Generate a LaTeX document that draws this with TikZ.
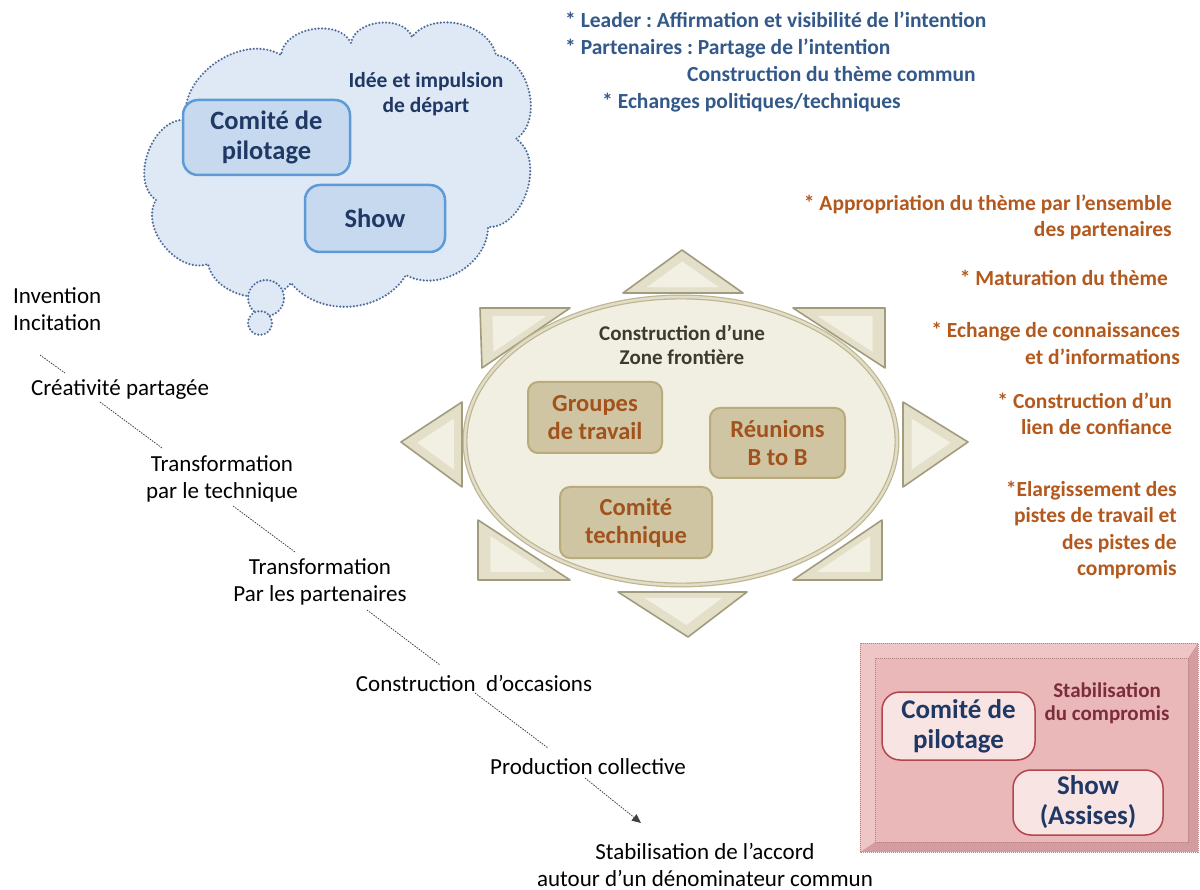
\documentclass[tikz,border=0pt]{standalone}
\usepackage{fontspec}
\setmainfont{Carlito}
\frenchspacing
\usetikzlibrary{shapes.geometric,calc,arrows.meta}
\definecolor{cloudfill}{HTML}{DFE9F6}
\definecolor{cloudline}{HTML}{4F6E9E}
\definecolor{cbfill}{HTML}{C7D9EF}
\definecolor{cbline}{HTML}{5E9BD6}
\definecolor{navy}{HTML}{1F3864}
\definecolor{bluetxt}{HTML}{33598A}
\definecolor{orangetxt}{HTML}{B3591D}
\definecolor{ellfill}{HTML}{F1EEE2}
\definecolor{ellline}{HTML}{BDB58F}
\definecolor{trifill}{HTML}{E4DFC9}
\definecolor{triline}{HTML}{A29C7E}
\definecolor{triinner}{HTML}{F2EFE3}
\definecolor{tanfill}{HTML}{CFC5A3}
\definecolor{tanline}{HTML}{B9AB7C}
\definecolor{tantxt}{HTML}{A2521C}
\definecolor{zonetxt}{HTML}{3F3A2F}
\definecolor{pinkpanel}{HTML}{EAB8B9}
\definecolor{pinklight}{HTML}{EEC6C6}
\definecolor{pinkdark}{HTML}{D49C9F}
\definecolor{pinkdot}{HTML}{B08283}
\definecolor{pinkbox}{HTML}{F9E4E4}
\definecolor{pinkline}{HTML}{B1464F}
\definecolor{maroon}{HTML}{7C2D3C}
\newcommand\bevtri[3]{%
  \coordinate (tA) at #1; \coordinate (tB) at #2; \coordinate (tC) at #3;
  \coordinate (tG) at (barycentric cs:tA=1,tB=1,tC=1);
  \filldraw[tri] (tA) -- (tB) -- (tC) -- cycle;
  \fill[triinner] ($(tG)!0.6!(tA)$) -- ($(tG)!0.6!(tB)$) -- ($(tG)!0.6!(tC)$) -- cycle;}
\tikzset{
  tri/.style={fill=trifill, draw=triline, line width=1.6pt, line join=round},
  dotline/.style={draw=cloudline, line width=2.4pt, dash pattern=on 0pt off 3.4pt, line cap=round},
  cloudbox/.style={rounded corners=15pt, fill=cbfill, draw=cbline, line width=2.5pt,
    font=\bfseries\fontsize{26.5}{30}\selectfont, text=navy, align=center, inner sep=0pt},
  tanbox/.style={rounded corners=10pt, fill=tanfill, draw=tanline, line width=2pt,
    font=\bfseries\fontsize{24.5}{28}\selectfont, text=tantxt, align=center, inner sep=0pt},
  pinkbx/.style={rounded corners=18pt, fill=pinkbox, draw=pinkline, line width=1.5pt,
    font=\bfseries\fontsize{27}{30}\selectfont, text=navy, align=center, inner sep=0pt},
  flowtxt/.style={font=\fontsize{23}{27}\selectfont, text=black, inner sep=0pt},
  bluetext/.style={font=\bfseries\fontsize{21.5}{26.3}\selectfont, text=bluetxt, inner sep=0pt, align=left},
  orangetext/.style={font=\bfseries\fontsize{21.5}{26.5}\selectfont, text=orangetxt, inner sep=0pt, align=right, anchor=east},
  flowline/.style={draw=black!75, line width=0.8pt, dash pattern=on 1.5pt off 1.2pt},
}
\begin{document}
\begin{tikzpicture}[x=1pt,y=-1pt]
\useasboundingbox (0,0) rectangle (1200,890);
\fill[white] (0,0) rectangle (1200,890);

% ---------- cloud ----------
\path[fill=cloudfill, dotline] (156,200) to[bend left=75] (186,120) to[bend left=65] (281,55)
  to[bend left=75] (351,43) to[bend left=75] (412,37) to[bend left=65] (496,55)
  to[bend left=70] (516,139) to[bend left=75] (488,227) to[bend left=60] (406,275)
  to[bend left=55] (291,283) to[bend left=65] (208,264) to[bend left=70] (156,200) -- cycle;
\node[circle, minimum size=36pt, fill=cloudfill, dotline] (bub1) at (266,298) {};
\node[circle, minimum size=24pt, fill=cloudfill, dotline] (bub2) at (260,323) {};

\node[cloudbox, minimum width=167pt, minimum height=75pt] (cp1) at (266.5,137.5) {Comité de\\pilotage};
\node[cloudbox, minimum width=140pt, minimum height=67pt] (show1) at (375,218.5) {Show};
\node[font=\bfseries\fontsize{21.5}{25}\selectfont, text=navy, align=center, inner sep=0pt] (idee) at (426,94.5) {Idée et impulsion\\de départ};

% ---------- blue texts ----------
\node[bluetext, anchor=west] (lead) at (565,35) {* Leader : Affirmation et visibilité de l'intention\\* Partenaires : Partage de l'intention};
\node[bluetext, anchor=west] (theme) at (687,74) {Construction du thème commun};
\node[bluetext, anchor=west] (ech) at (602,103) {* Echanges politiques/techniques};

% ---------- central zone ----------
\bevtri{(682,250)}{(623,293)}{(743,293)}
\bevtri{(688,637)}{(618,592)}{(747,592)}
\bevtri{(401,442)}{(462,402)}{(462,487)}
\bevtri{(968,442)}{(903,402)}{(903,487)}
\bevtri{(480,308)}{(570,308)}{(482,368)}
\bevtri{(885,308)}{(793,308)}{(885,368)}
\bevtri{(478,520)}{(478,580)}{(570,580)}
\bevtri{(882,520)}{(882,580)}{(793,580)}

\node[ellipse, minimum width=432pt, minimum height=288pt, fill=ellfill, draw=ellline, line width=1.2pt,
  double=ellfill!70!ellline, double distance=2.5pt] (zone) at (681,441) {};
\node[font=\bfseries\fontsize{21}{24}\selectfont, text=zonetxt, align=center, inner sep=0pt] (zonet) at (682,345) {Construction d’une\\Zone frontière};
\node[tanbox, minimum width=134pt, minimum height=71pt] (grp) at (595,417.5) {Groupes\\de travail};
\node[tanbox, minimum width=135pt, minimum height=70pt] (reu) at (777.5,443) {Réunions\\B to B};
\node[tanbox, minimum width=152pt, minimum height=71pt] (ctech) at (636,522.5) {Comité\\technique};

% ---------- orange texts ----------
\node[orangetext] (o1) at (1172,217.5) {* Appropriation du thème par l’ensemble\\des partenaires};
\node[orangetext] (o2) at (1168,278) {* Maturation du thème};
\node[orangetext] (o3) at (1180,343.5) {* Echange de connaissances\\et d'informations};
\node[orangetext] (o4) at (1172,414) {* Construction d'un\\lien de confiance};
\node[orangetext] (o5) at (1177,530) {*Elargissement des\\pistes de travail et\\des pistes de\\compromis};

% ---------- pink box ----------
\fill[pinkdark] (860,643) rectangle (1198,852);
\fill[pinklight] (860,643) -- (1198,643) -- (1188,658) -- (875,658) -- (875,842) -- (860,852) -- cycle;
\fill[pinkpanel] (875,658) rectangle (1188,842);
\draw[pinkdot, line width=1pt, dash pattern=on 1pt off 1pt] (860,643) rectangle (1198,852);
\draw[pinkdot, line width=1pt, dash pattern=on 1pt off 1pt] (875,658) rectangle (1188,842);
\node[pinkbx, minimum width=153pt, minimum height=68pt] (cp2) at (958.5,726) {Comité de\\pilotage};
\node[pinkbx, minimum width=150pt, minimum height=65pt] (show2) at (1088,802.5) {Show\\(Assises)};
\node[font=\bfseries\fontsize{21}{23}\selectfont, text=maroon, align=center, inner sep=0pt] (stabc) at (1107,703.5) {Stabilisation\\du compromis};

% ---------- left flow ----------
\node[flowtxt, anchor=west, align=left] (inv) at (13,309.5) {Invention\\Incitation};
\node[flowtxt, anchor=west] (cre) at (31,390) {Créativité partagée};
\node[flowtxt, align=center] (tr1) at (222,478.5) {Transformation\\par le technique};
\node[flowtxt, align=center] (tr2) at (320,581.5) {Transformation\\Par les partenaires};
\node[flowtxt] (occ) at (474,683) {Construction\ \ d'occasions};
\node[flowtxt] (prod) at (588,767) {Production collective};
\node[flowtxt, align=center] (stab) at (705,865) {Stabilisation de l’accord\\autour d’un dénominateur commun};

\coordinate (c1a) at (40,355);  \coordinate (c1b) at (65,373);
\coordinate (c2a) at (100,402); \coordinate (c2b) at (162,448);
\coordinate (c3a) at (233,506); \coordinate (c3b) at (295,552);
\coordinate (c4a) at (367,610); \coordinate (c4b) at (440,665);
\coordinate (c5a) at (475,693); \coordinate (c5b) at (548,748);
\coordinate (c6a) at (585,778); \coordinate (c6b) at (641,823);
\draw[flowline] (c1a) -- (c1b);
\draw[flowline] (c2a) -- (c2b);
\draw[flowline] (c3a) -- (c3b);
\draw[flowline] (c4a) -- (c4b);
\draw[flowline] (c5a) -- (c5b);
\draw[flowline, -{Triangle[length=9pt,width=8pt]}] (c6a) -- (c6b);
\end{tikzpicture}
\end{document}
